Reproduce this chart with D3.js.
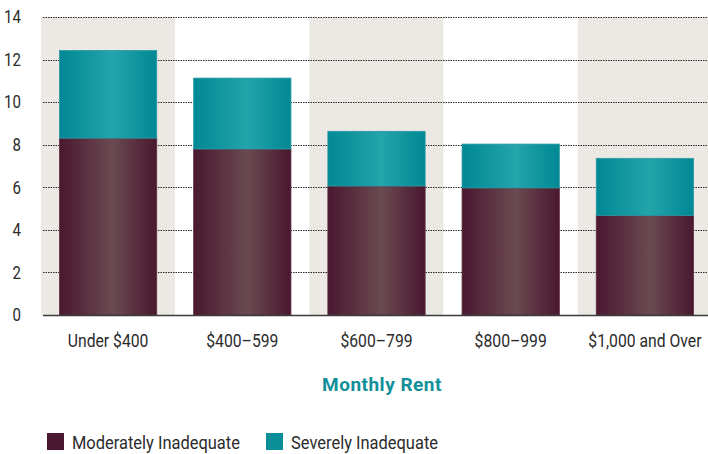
<!DOCTYPE html>
<html>
<head>
<meta charset="utf-8">
<script src="https://cdn.jsdelivr.net/npm/d3@7"></script>
<style>
  body { margin: 0; background: #fff; }
  text { font-family: "Roboto", "Liberation Sans", sans-serif; }
</style>
</head>
<body>
<svg id="chart"></svg>
<script>
// data
const categories = ['Under $400', '$400\u2013599', '$600\u2013799', '$800\u2013999', '$1,000 and Over'];
const moderate = [8.31, 7.80, 6.06, 5.97, 4.68];
const severe = [4.12, 3.33, 2.57, 2.06, 2.68];
const seriesNames = ['Moderately Inadequate', 'Severely Inadequate'];
const yTicks = [0, 2, 4, 6, 8, 10, 12, 14];

const width = 708, height = 454;
const margin = {top: 17, right: -4, bottom: 139, left: 41};
const squeeze = 0.86; // fake a condensed face

const svg = d3.select('#chart')
    .attr('width', width)
    .attr('height', height);

const defs = svg.append('defs');
function addGradient(id, edge, mid) {
    const g = defs.append('linearGradient')
        .attr('id', id)
        .attr('x1', '0%').attr('x2', '100%')
        .attr('y1', '0%').attr('y2', '0%');
    g.append('stop').attr('offset', '0%').attr('stop-color', edge);
    g.append('stop').attr('offset', '55%').attr('stop-color', mid);
    g.append('stop').attr('offset', '100%').attr('stop-color', edge);
}
addGradient('gradMod', '#4a1830', '#6a4a51');
addGradient('gradSev', '#008894', '#24a4ab');

const x = d3.scaleBand()
    .domain(categories)
    .range([margin.left, width - margin.right])
    .padding(0);

const y = d3.scaleLinear()
    .domain([0, 14])
    .range([height - margin.bottom, margin.top]);

// alternating background bands
svg.append('g').selectAll('rect')
    .data(categories)
    .enter()
    .append('rect')
    .attr('x', d => x(d))
    .attr('y', y(14))
    .attr('width', x.bandwidth())
    .attr('height', y(0) - y(14))
    .attr('fill', (d, i) => i % 2 === 0 ? '#ece9e4' : '#ffffff');

// dotted gridlines
svg.append('g').selectAll('line')
    .data(yTicks.filter(t => t > 0))
    .enter()
    .append('line')
    .attr('x1', 43)
    .attr('x2', width)
    .attr('y1', d => Math.round(y(d)) + 0.5)
    .attr('y2', d => Math.round(y(d)) + 0.5)
    .attr('stroke', '#2a2a2a')
    .attr('stroke-width', 1)
    .attr('stroke-dasharray', '1.5,1');

// stacked bars
const barW = x.bandwidth() * 0.725;
const stackData = categories.map((c, i) => ({cat: c, mod: moderate[i], sev: severe[i]}));
const stack = d3.stack().keys(['mod', 'sev'])(stackData);
const fills = ['url(#gradMod)', 'url(#gradSev)'];
const edges = ['#5c3142', '#2a9aa3'];

svg.append('g').selectAll('g')
    .data(stack)
    .enter()
    .append('g')
    .attr('fill', (d, i) => fills[i])
    .selectAll('rect')
    .data((d, i) => d.map(v => ({v, i})))
    .enter()
    .append('rect')
    .attr('x', d => x(d.v.data.cat) + (x.bandwidth() - barW) / 2)
    .attr('y', d => y(d.v[1]))
    .attr('width', barW)
    .attr('height', d => y(d.v[0]) - y(d.v[1]))
    .attr('stroke', d => edges[d.i])
    .attr('stroke-width', 0.8);

// zero line
svg.append('line')
    .attr('x1', 43)
    .attr('x2', width)
    .attr('y1', y(0) + 0.5)
    .attr('y2', y(0) + 0.5)
    .attr('stroke', '#3a3a3a')
    .attr('stroke-width', 1.6);

// y tick labels
svg.append('g').selectAll('text')
    .data(yTicks)
    .enter()
    .append('text')
    .attr('transform', d => `translate(21, ${y(d)}) scale(${squeeze}, 1)`)
    .attr('dy', '0.36em')
    .attr('text-anchor', 'end')
    .style('font-size', '17.5px')
    .attr('fill', '#2b2b2b')
    .text(d => d);

// category labels
svg.append('g').selectAll('text')
    .data(categories)
    .enter()
    .append('text')
    .attr('transform', d => `translate(${x(d) + x.bandwidth() / 2}, 347) scale(${squeeze}, 1)`)
    .attr('text-anchor', 'middle')
    .style('font-size', '18.3px')
    .attr('fill', '#2b2b2b')
    .text(d => d);

// axis title
svg.append('text')
    .attr('x', 382)
    .attr('y', 391)
    .attr('text-anchor', 'middle')
    .style('font-size', '19px')
    .style('font-weight', 'bold')
    .style('letter-spacing', '0.5px')
    .attr('fill', '#12909a')
    .text('Monthly Rent');

// legend
const legendX = [47, 266];
const legendColors = ['#4a1830', '#0a8e98'];
const legend = svg.append('g').selectAll('g')
    .data(seriesNames)
    .enter()
    .append('g')
    .attr('transform', (d, i) => `translate(${legendX[i]}, 433)`);

legend.append('rect')
    .attr('width', 17)
    .attr('height', 17)
    .attr('fill', (d, i) => legendColors[i]);

legend.append('text')
    .attr('transform', `translate(25, 16) scale(0.89, 1)`)
    .style('font-size', '18.5px')
    .attr('fill', '#2b2b2b')
    .text(d => d);
</script>
</body>
</html>
